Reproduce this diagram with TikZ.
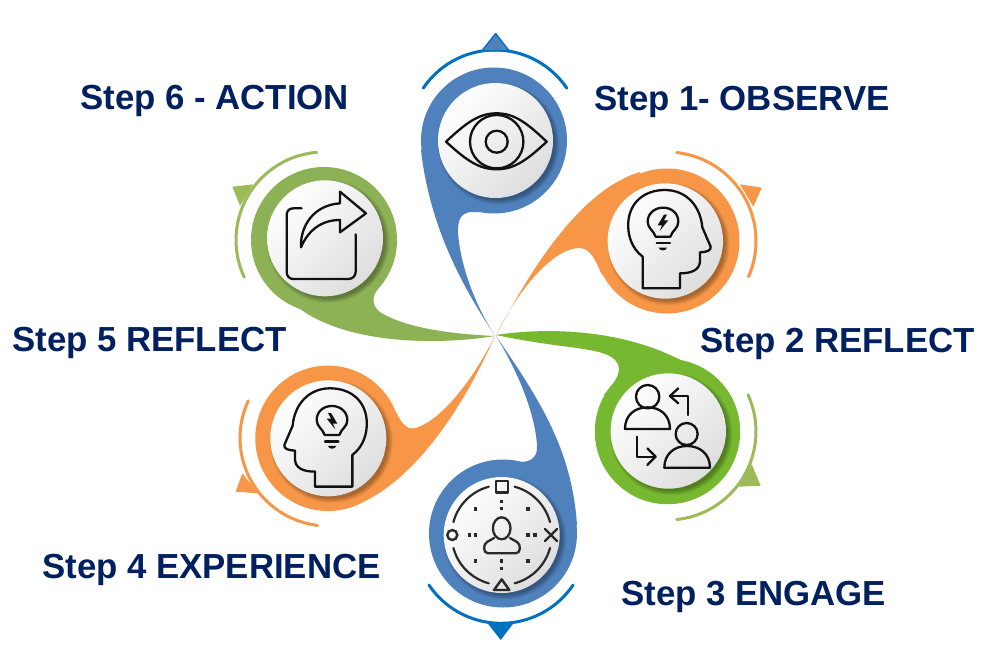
\documentclass[tikz,border=0pt]{standalone}
\usepackage{fontspec}
\setmainfont{Liberation Sans}
\definecolor{navy}{HTML}{002060}
\definecolor{pblue}{HTML}{4F81BD}
\definecolor{rblue}{HTML}{0070C0}
\definecolor{porange}{HTML}{F79646}
\definecolor{pgreen}{HTML}{76B82F}
\definecolor{pgreenb}{HTML}{8DB255}
\definecolor{rgreen}{HTML}{9BBB59}
\definecolor{ink}{HTML}{111111}
\tikzset{
  steplabel/.style={anchor=base west,inner sep=0pt,font=\fontsize{34.8}{35}\selectfont\bfseries,text=navy},
  iconline/.style={draw=ink,line width=2.3pt,line join=round,line cap=round},
  ringline/.style={line width=3pt,line cap=round},
}
% white disc with a soft shadow to the lower right
\newcommand{\discat}[4]{% centre x, centre y, radius, name
  \foreach \k in {1,...,6}{
    \fill[black,opacity=.06] (#1+3,#2+3) circle[radius=#3+\k*0.9pt-2pt];
  }
  \node[circle,inner sep=0pt,minimum size=2*#3,top color=white,bottom color=black!13,shading angle=45] (#4) at (#1,#2) {};
}
\newcommand{\headicon}{%
  \draw[iconline] (458,445) -- (458,350) .. controls (425,325) and (412,285) .. (415,245)
    .. controls (420,185) and (465,150) .. (525,150) .. controls (590,150) and (632,200) .. (637,262)
    -- (662,320) .. controls (664,332) and (650,336) .. (630,337) -- (630,365)
    .. controls (628,390) and (605,400) .. (570,400) -- (570,445) -- cycle;
  \draw[iconline] (497,290) .. controls (490,270) and (473,265) .. (473,245)
    .. controls (473,220) and (495,203) .. (519,203) .. controls (545,203) and (565,220) .. (565,245)
    .. controls (565,265) and (548,270) .. (541,290) -- cycle;
  \fill[ink] (522,224) -- (503,256) -- (516,256) -- (509,273) -- (535,241) -- (522,241) -- (531,224) -- cycle;
  \draw[iconline] (500,310) -- (540,310);
  \fill[ink] (506,323) -- (531,323) .. controls (528,334) and (510,334) .. (506,323) -- cycle;
}
\begin{document}
\begin{tikzpicture}[x=1pt,y=-1pt]
\useasboundingbox (0,0) rectangle (988,657);
\fill[white] (0,0) rectangle (988,657);

% ---------- Petal 1, blue, top
\fill[pblue] (494,140.5) circle[radius=73pt];
\fill[pblue] (495,336) .. controls (465,290) and (430,230) .. (421,150) -- (494,140) -- (480,212)
  -- (470,212) .. controls (459,214) and (458,222) .. (458,232) .. controls (460,265) and (475,305) .. (495,336) -- cycle;
\draw[rblue,ringline] (495,136.6) ++(146:86.6pt) arc[start angle=146,end angle=34,radius=86.6pt];
\fill[pblue,draw=rblue,line width=1.4pt,line join=round] (482,50.7) -- (495.7,33.5) -- (509,50.7) -- cycle;
\discat{495.5}{140.5}{57.5pt}{d1}
\draw[iconline] (446,141.7) .. controls (465,124) and (478,113.3) .. (496.7,113.3)
  .. controls (515,113.3) and (528,124) .. (546.7,141.7)
  .. controls (528,159) and (515,169.3) .. (496.7,169.3)
  .. controls (478,169.3) and (465,159) .. (446,141.7) -- cycle;
\draw[iconline] (496.7,141.7) circle[radius=26.7pt];
\draw[iconline] (496.7,141.7) circle[radius=11pt];

% ---------- Petal 2, orange, upper right
\fill[porange] (667,241) circle[radius=72.5pt];
\fill[porange] (496,336) .. controls (530,270) and (580,190) .. (640,172) -- (667,241) -- (602,275)
  .. controls (597,265) and (592,247) .. (578,248) .. controls (550,250) and (515,295) .. (496,336) -- cycle;
\draw[porange,ringline] (667,241) ++(83.7:89pt) arc[start angle=83.7,end angle=-23.7,radius=89pt];
\fill[porange] (740,184.3) -- (761.7,187.7) -- (753.3,206.7) -- cycle;
\discat{665.3}{241}{57.7pt}{d2}
\begin{scope}[shift={(490,140)},x=.3333pt,y=-.3333pt]
  \headicon
\end{scope}

% ---------- Petal 3, green, lower right
\fill[pgreen] (667.5,431.5) circle[radius=72.7pt];
\fill[pgreen] (496,335) .. controls (560,325) and (670,330) .. (733,400) -- (667,431) -- (604,395)
  .. controls (612,385) and (622,375) .. (618,364) .. controls (612,352) and (590,350) .. (570,347)
  .. controls (545,344) and (520,340) .. (496,335) -- cycle;
\draw[rgreen,ringline] (667.5,431.5) ++(24.5:88.5pt) arc[start angle=24.5,end angle=-84,radius=88.5pt];
\fill[rgreen] (751.7,464.3) -- (760.7,485.7) -- (738,486.7) -- cycle;
\discat{668.3}{431}{57.7pt}{d3}
\begin{scope}[shift={(490,320)},x=.3333pt,y=-.3333pt]
  \draw[iconline] (473,230) circle[radius=11.7pt];
  \draw[iconline] (405,327) -- (540,327) .. controls (540,285) and (510,262) .. (473,262)
    .. controls (435,262) and (405,285) .. (405,327) -- cycle;
  \draw[iconline] (590,342) circle[radius=11pt];
  \draw[iconline] (523,443) -- (660,443) .. controls (660,402) and (630,378) .. (591,378)
    .. controls (553,378) and (523,402) .. (523,443) -- cycle;
  \draw[iconline] (595,285) -- (595,228) -- (540,228);
  \draw[iconline] (565,205) -- (540,228) -- (565,250);
  \draw[iconline] (440,350) -- (440,410) -- (497,410);
  \draw[iconline] (472,385) -- (497,410) -- (472,435);
\end{scope}

% ---------- Petal 4, blue, bottom
\fill[pblue] (503,533.5) circle[radius=74pt];
\fill[pblue] (496,336) .. controls (540,400) and (572,450) .. (577,525) -- (503,533) -- (520,462)
  .. controls (530,462) and (538,458) .. (537,445) .. controls (535,415) and (520,375) .. (496,336) -- cycle;
\draw[rblue,ringline] (501,536.3) ++(-146:87pt) arc[start angle=-146,end angle=-34,radius=87pt];
\fill[rblue] (487,622.5) -- (514,622.5) -- (500.7,640) -- cycle;
\discat{501.7}{535}{58pt}{d4}
\begin{scope}[shift={(501.7,535)}]
  \foreach \a in {15,105,195,285}{
    \draw[draw=ink!90,line width=2.2pt,line cap=round] (\a:50pt) arc[start angle=\a,delta angle=60,radius=50pt];
  }
\end{scope}
\draw[ink!90,fill=none,line width=2.6pt,line join=round] (496,481) rectangle (508,492.5);
\draw[ink!90,line width=2.4pt] (452.3,535) circle[radius=5pt];
\draw[ink!90,line width=2.4pt,line cap=round] (545,529) -- (557,541) (557,529) -- (545,541);
\draw[ink!90,line width=2.4pt,line join=round] (494,590) -- (509.3,590) -- (501.7,579.3) -- cycle;
\foreach \px/\py in {501.7/501.7,501.7/508.3,475.7/509,528/509,475.7/561,528/561,469.3/535,475.7/535,528/535,535/535,501.7/561,501.7/568.3}{
  \fill[ink!90] (\px-1.7,\py-1.7) rectangle (\px+1.7,\py+1.7);
}
\draw[iconline,draw=ink!90] (501.7,528.3) ellipse[x radius=8.8pt,y radius=11pt];
\draw[iconline,draw=ink!90] (494,538) -- (487,542) .. controls (483,544) and (483,553.3) .. (488,553.3)
  -- (516,553.3) .. controls (521,553.3) and (521,544) .. (517,542) -- (510,538);

% ---------- Petal 5, orange, lower left
\fill[porange] (328,438.3) circle[radius=72.7pt];
\fill[porange] (495,336) .. controls (462,410) and (410,490) .. (345,509) -- (328,438) -- (396,412)
  .. controls (402,425) and (408,430) .. (416,428) .. controls (440,420) and (470,385) .. (495,336) -- cycle;
\draw[porange,ringline] (328,438) ++(155:88pt) arc[start angle=155,end angle=263,radius=88pt];
\fill[porange] (242.3,473.3) -- (235.7,491.7) -- (258.3,493.3) -- cycle;
\discat{328.3}{438.3}{58pt}{d5}
\begin{scope}[shift={(505,338.3)},x=-.3333pt,y=-.3333pt]
  \headicon
\end{scope}

% ---------- Petal 6, green, upper left
\fill[pgreenb] (324,240) circle[radius=73pt];
\fill[pgreenb] (495,336) .. controls (440,345) and (350,345) .. (300,309) -- (324,240) -- (378,289)
  .. controls (372,296) and (370,308) .. (385,315) .. controls (410,328) and (450,334) .. (495,336) -- cycle;
\draw[rgreen,ringline] (324,240) ++(94.8:88pt) arc[start angle=94.8,end angle=205,radius=88pt];
\fill[rgreen] (232.3,186.7) -- (253.3,184.3) -- (240,205.7) -- cycle;
\discat{325}{238.3}{58pt}{d6}
\begin{scope}[shift={(225,145)},x=.3333pt,y=-.3333pt]
  \draw[iconline] (230,190) -- (205,190) .. controls (193,190) and (185,198) .. (185,210) -- (185,380)
    .. controls (185,393) and (193,402) .. (205,402) -- (370,402) .. controls (383,402) and (392,393) .. (392,380) -- (392,268);
  \draw[iconline] (228,307) .. controls (225,245) and (265,180) .. (345,175) -- (345,140) -- (423,205) -- (345,262) -- (345,225)
    .. controls (290,225) and (250,255) .. (228,307) -- cycle;
\end{scope}

% ---------- Labels
\node[steplabel] (s1) at (594,110) {Step 1- OBSERVE};
\node[steplabel] (s2) at (700,352) {Step 2 REFLECT};
\node[steplabel] (s3) at (621,605) {Step 3 ENGAGE};
\node[steplabel] (s4) at (42,578) {Step 4 EXPERIENCE};
\node[steplabel] (s5) at (12,351) {Step 5 REFLECT};
\node[steplabel] (s6) at (80,109) {Step 6 - ACTION};
\end{tikzpicture}
\end{document}
